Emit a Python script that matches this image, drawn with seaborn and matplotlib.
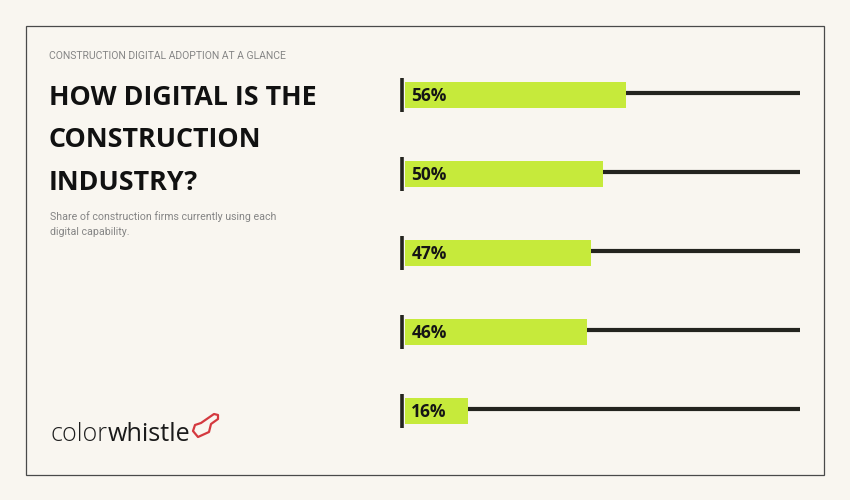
import matplotlib
matplotlib.use("Agg")
import matplotlib.pyplot as plt
import seaborn as sns
import pandas as pd
from matplotlib.patches import Rectangle, PathPatch
from matplotlib.path import Path

# ---------------- data ----------------
categories = ["Capability 1", "Capability 2", "Capability 3", "Capability 4", "Capability 5"]
values = [56, 50, 47, 46, 16]
value_labels = ["56%", "50%", "47%", "46%", "16%"]
track_max = 100

kicker = "CONSTRUCTION DIGITAL ADOPTION AT A GLANCE"
title_lines = ["HOW DIGITAL IS THE", "CONSTRUCTION", "INDUSTRY?"]
subtitle_lines = ["Share of construction firms currently using each", "digital capability."]
logo_light = "color"
logo_bold = "whistle"

# ---------------- style ----------------
BG = "#f9f6f0"
BAR = "#c6ea3b"
DARK = "#24241f"
GRAY = "#858585"
RED = "#d4393f"

sns.set_theme(style="white")
plt.rcParams["font.family"] = ["Open Sans", "DejaVu Sans"]
SMALL = ["Roboto", "DejaVu Sans"]

W, H = 850, 500
fig = plt.figure(figsize=(W / 100, H / 100), dpi=100, facecolor=BG)
fig.canvas.draw()
R = fig.canvas.get_renderer()


def fx(px):
    return px / W


def fy(py):
    return 1 - py / H


def width(t):
    return t.get_window_extent(renderer=R).width


def fit(t, target_px):
    """scale a text's font size so that its width matches target_px"""
    t.set_fontsize(t.get_fontsize() * target_px / width(t))
    return t


# frame
fig.patches.append(Rectangle((fx(25.5), fy(474.5)), 798 / W, 449 / H,
                             transform=fig.transFigure, fill=False,
                             edgecolor="#4a4a4a", linewidth=0.9))

# ---------------- bars ----------------
row_h = 79
top_c = 95
ax_left, ax_right = 405, 800
ax_top = top_c - row_h / 2
ax_bot = ax_top + row_h * len(values)
ax = fig.add_axes([fx(ax_left), fy(ax_bot), (ax_right - ax_left) / W, (ax_bot - ax_top) / H])
ax.set_facecolor("none")

df = pd.DataFrame({"category": categories, "value": values})
sns.barplot(data=df, x="value", y="category", color=BAR, width=0.33,
            saturation=1, linewidth=0, ax=ax, zorder=3)
ax.set_xlim(0, track_max)
ax.set_ylim(len(values) - 0.5, -0.5)

for i, v in enumerate(values):
    ax.hlines(i - 0.03, 0, track_max, color=DARK, linewidth=3.0, zorder=1)
    ax.vlines(-0.65, i - 0.215, i + 0.215, color=DARK, linewidth=2.6,
              clip_on=False, zorder=4)
    ax.text(1.6, i + 0.01, value_labels[i], fontsize=12.5, fontweight="bold",
            color="#151515", va="center", ha="left", zorder=5)
ax.axis("off")

# ---------------- texts ----------------
fit(fig.text(fx(49), fy(59), kicker, fontsize=7.5, color=GRAY, family=SMALL,
             va="baseline", ha="left"), 235)
tsize = None
for k, line in enumerate(title_lines):
    t = fig.text(fx(49), fy(105 + 42.5 * k), line, fontsize=19.5, fontweight="bold",
                 color="#111111", va="baseline", ha="left")
    if k == 0:
        fit(t, 268)
        tsize = t.get_fontsize()
    else:
        t.set_fontsize(tsize)
ssize = None
for k, line in enumerate(subtitle_lines):
    t = fig.text(fx(50), fy(220 + 15 * k), line, fontsize=8, color=GRAY,
                 family=SMALL, va="baseline", ha="left")
    if k == 0:
        fit(t, 227)
        ssize = t.get_fontsize()
    else:
        t.set_fontsize(ssize)

# logo: same size for both words, scaled so the whole word is ~140 px wide
t1 = fig.text(fx(50), fy(441), logo_light, fontsize=18, fontweight="light",
              color="#1e1e1e", va="baseline", ha="left")
t2 = fig.text(0, fy(441), logo_bold, fontsize=18, fontweight="normal",
              color="#1a1a1a", va="baseline", ha="left")
s = 18 * 140 / (width(t1) + width(t2))
t1.set_fontsize(s)
t2.set_fontsize(s)
t2.set_x((50 + width(t1) + 0.5) / W)

# whistle icon (pixel coords)
pts = [(198, 437), (193, 431), (195, 425), (201, 423), (214, 414), (218, 415),
       (218, 419), (211, 424), (209, 432), (198, 437)]
verts = [(fx(x), fy(y)) for x, y in pts]
codes = [Path.MOVETO] + [Path.LINETO] * (len(verts) - 2) + [Path.CLOSEPOLY]
fig.patches.append(PathPatch(Path(verts, codes), transform=fig.transFigure,
                             fill=False, edgecolor=RED, linewidth=1.6,
                             joinstyle="round"))

fig.savefig("out.png", dpi=100, facecolor=BG)
